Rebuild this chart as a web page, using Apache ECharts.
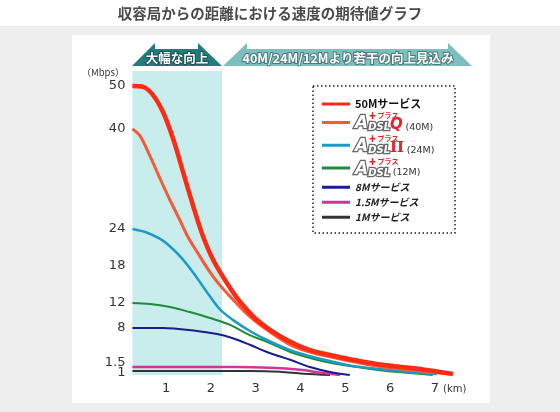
<!DOCTYPE html>
<html><head><meta charset="utf-8">
<script src="https://cdn.jsdelivr.net/npm/echarts@6/dist/echarts.min.js"></script>
<style>html,body{margin:0;padding:0;background:#fff}#c{width:560px;height:412px}</style>
</head><body><div id="c"></div>
<script>
// ---- data (distance km, speed Mbps) ----
const seriesNames = ['50Mサービス','ADSLプラスQ (40M)','ADSLプラスII (24M)','ADSLプラス (12M)','8Mサービス','1.5Mサービス','1Mサービス'];
const s50 = [[0.25,50],[0.49,49.8],[0.71,47.9],[0.93,44.0],[1.16,38.4],[1.38,33.1],[1.6,27.8],[1.82,22.9],[2.05,19.0],[2.36,15.2],[2.65,12.2],[2.98,9.6],[3.32,7.7],[3.77,5.7],[4.21,4.3],[4.66,3.5],[5.1,2.8],[5.77,1.9],[6.66,1.25],[7.4,0.25]];
const s40 = [[0.25,40],[0.42,38.9],[0.64,35.7],[0.87,32.0],[1.09,28.6],[1.31,25.4],[1.49,22.7],[1.69,20.3],[1.98,17.0],[2.2,14.9],[2.5,12.5],[2.87,9.8],[3.25,7.7],[3.77,5.2],[4.21,4.0],[4.66,3.2],[5.1,2.5],[5.77,1.6],[6.66,1.0],[7.33,0.25]];
const s24 = [[0.25,24],[0.58,23.4],[0.87,22.4],[1.02,21.6],[1.31,19.6],[1.6,17.0],[1.91,13.8],[2.2,11.0],[2.49,9.3],[2.87,7.5],[3.25,6.0],[3.77,4.3],[4.21,3.3],[4.66,2.5],[5.1,1.75],[5.77,1.25],[6.44,0.75],[7.04,0.25]];
const s12 = [[0.25,12],[0.64,11.85],[1.09,11.35],[1.53,10.55],[1.98,9.6],[2.43,8.5],[2.87,6.8],[3.25,5.7],[3.77,4.0],[4.21,3.0],[4.66,2.2],[5.1,1.65],[5.77,1.1],[6.44,0.5],[6.95,0]];
const s8 = [[0.25,8],[0.93,8],[1.69,7.5],[2.14,7.0],[2.49,6.3],[2.87,5.2],[3.25,4.0],[3.77,2.7],[4.21,1.5],[4.66,0.75],[5.1,0]];
const s15 = [[0.25,1.5],[2.54,1.5],[3.32,1.4],[3.99,1.15],[4.44,0.6],[4.88,0]];
const s1 = [[0.25,1],[2.87,1],[3.54,0.8],[4.06,0.3],[4.66,0]];
const xTickValues = [1,2,3,4,5,6,7];
const yTickValues = [1,8,12,18,24,40,50];
const yTickLabels = ['1','8','12','18','24','40','50'];
const yTickValues2 = [1.5];          // drawn on a twin axis so it is not dropped as overlapping
const yTickLabels2 = ['1.5'];
const bandRange = [0.25, 2.25];

// ---- non-linear speed scale of the original chart (piecewise linear) ----
const knotSpeed = [0,1,1.5,8,12,18,24,40,50];
const knotPos   = [0,4,8,47,72,109,146,246,289];
function f(v){
  for(let i=1;i<knotSpeed.length;i++){
    if(v<=knotSpeed[i]){
      const t=(v-knotSpeed[i-1])/(knotSpeed[i]-knotSpeed[i-1]);
      return knotPos[i-1]+t*(knotPos[i]-knotPos[i-1]);
    }
  }
  return knotPos[knotPos.length-1];
}
const labelNudge = {'1':-2,'1.5':4};
const yLabelPos = yTickValues.map((v,i)=>f(v)+(labelNudge[yTickLabels[i]]||0));
const yLabelPos2 = yTickValues2.map((v,i)=>f(v)+(labelNudge[yTickLabels2[i]]||0));
const tr = arr => arr.map(p=>[p[0], f(p[1])]);
function lookup(pos, labels){ return function(v){ for(let i=0;i<pos.length;i++){ if(Math.abs(pos[i]-v)<0.01) return labels[i]; } return ''; }; }

const chart = echarts.init(document.getElementById('c'), null, {renderer:'canvas'});
const logoA = {fontSize:17,fontWeight:'bold',fontStyle:'italic',color:'#fff',textBorderColor:'#666',textBorderWidth:2.5,fontFamily:'DejaVu Sans',lineHeight:13,verticalAlign:'bottom'};
const logoD = {fontSize:10,fontWeight:'bold',fontStyle:'italic',color:'#fff',textBorderColor:'#666',textBorderWidth:2.5,fontFamily:'DejaVu Sans',lineHeight:13,verticalAlign:'bottom'};
const legendFmt = {
  '50Mサービス':'{b|50Mサービス}',
  'ADSLプラスQ (40M)':'{p|✚ プラス}\n{a|A}{d|DSL}{q|Q} {s|(40M)}',
  'ADSLプラスII (24M)':'{p|✚ プラス}\n{a|A}{d|DSL}{q2|II} {s|(24M)}',
  'ADSLプラス (12M)':'{p|✚ プラス}\n{a|A}{d|DSL} {s|(12M)}',
  '8Mサービス':'{n|8Mサービス}',
  '1.5Mサービス':'{n|1.5Mサービス}',
  '1Mサービス':'{n|1Mサービス}'
};
const colors = ['#ff2a12','#f65a38','#1a9bc9','#1e8a3c','#1c1c8c','#d0369a','#333333'];
const widths = [4.5,3,2.5,2,2,2.5,2];
const dataSets = [s50,s40,s24,s12,s8,s15,s1];

const series = [{
  type:'line', name:'band', data:[], z:1, silent:true,
  markArea:{silent:true, itemStyle:{color:'#c9eded'}, data:[[{xAxis:bandRange[0]},{xAxis:bandRange[1]}]]}
}];
dataSets.forEach((d,i)=>{
  series.push({
    type:'line', name:seriesNames[i], data:tr(d), symbol:'none', showSymbol:false,
    smooth:0.35, z:10-i, silent:true,
    lineStyle:{color:colors[i], width:widths[i]}, itemStyle:{color:colors[i]}
  });
});

const yBase = {type:'value', min:0, max:304, position:'left',
  axisLine:{show:false}, axisTick:{show:false}, splitLine:{show:false}};
const yLabelStyle = {hideOverlap:false, margin:7, fontSize:13, color:'#333', fontFamily:'DejaVu Sans'};

chart.setOption({
  animation:false,
  backgroundColor:'#ffffff',
  title:{text:'収容局からの距離における速度の期待値グラフ', left:270, top:6, textAlign:'center', padding:0,
    textStyle:{fontSize:14.5, fontWeight:'bold', color:'#4a4a4a', fontFamily:'Noto Sans CJK JP'}},
  grid:{left:132.4, top:71, width:325, height:304, containLabel:false},
  xAxis:{type:'value', min:0.25, max:7.5,
    axisLine:{show:false}, axisTick:{show:false}, splitLine:{show:false},
    axisLabel:{customValues:xTickValues, margin:7, fontSize:13, color:'#333', fontFamily:'DejaVu Sans'}},
  yAxis:[
    Object.assign({}, yBase, {axisLabel:Object.assign({customValues:yLabelPos, formatter:lookup(yLabelPos,yTickLabels)}, yLabelStyle)}),
    Object.assign({}, yBase, {axisLabel:Object.assign({customValues:yLabelPos2, formatter:lookup(yLabelPos2,yTickLabels2)}, yLabelStyle)})
  ],
  legend:{orient:'vertical', left:322, top:97, padding:0, itemGap:1, itemWidth:28, itemHeight:3, itemTextGap:6,
    icon:'rect', data:seriesNames, selectedMode:false,
    formatter:function(n){return legendFmt[n];},
    textStyle:{fontFamily:'Noto Sans CJK JP', lineHeight:14,
      rich:{
        b:{fontSize:11,fontWeight:'bold',color:'#111',lineHeight:14,fontFamily:'Noto Sans CJK JP'},
        n:{fontSize:10,fontWeight:'bold',fontStyle:'italic',color:'#222',lineHeight:14,fontFamily:'Noto Sans CJK JP'},
        p:{fontSize:7,fontWeight:'bold',color:'#e8202a',lineHeight:6,padding:[0,0,0,14],fontFamily:'Noto Sans CJK JP'},
        a:logoA, d:logoD,
        q:{fontSize:15,fontWeight:'bold',fontStyle:'italic',color:'#e8202a',lineHeight:13,verticalAlign:'bottom',fontFamily:'DejaVu Sans'},
        q2:{fontSize:15,fontWeight:'bold',color:'#e8202a',lineHeight:13,verticalAlign:'bottom',fontFamily:'DejaVu Serif'},
        s:{fontSize:9.5,color:'#333',lineHeight:13,verticalAlign:'bottom',fontFamily:'DejaVu Sans'}
      }}},
  graphic:[
    {type:'rect', z:-10, silent:true, shape:{x:0,y:26,width:560,height:386}, style:{fill:'#eeeeee'}},
    {type:'rect', z:-9, silent:true, shape:{x:72,y:35,width:418,height:368}, style:{fill:'#ffffff'}},
    {type:'polygon', silent:true, shape:{points:[[132,66],[155,43],[155,49],[198,49],[198,43],[222,66]]}, style:{fill:'#1f7d7d'}},
    {type:'polygon', silent:true, shape:{points:[[223,66],[247,43],[247,49],[448,49],[448,43],[472,66]]}, style:{fill:'#7dbfbf'}},
    {type:'text', silent:true, style:{text:'大幅な向上', x:177, y:58, align:'center', verticalAlign:'middle', fill:'#fff', font:'bold 12.5px "Noto Sans CJK JP"', stroke:'#1e5050', lineWidth:2}},
    {type:'text', silent:true, style:{text:'40M/24M/12Mより若干の向上見込み', x:348, y:58, align:'center', verticalAlign:'middle', fill:'#fff', font:'bold 12.5px "Noto Sans CJK JP"', stroke:'#4a7a7a', lineWidth:2}},
    {type:'text', silent:true, style:{text:'（Mbps）', x:103, y:72, align:'center', verticalAlign:'middle', fill:'#333', font:'9.5px "Noto Sans CJK JP"'}},
    {type:'text', silent:true, style:{text:'(km)', x:443, y:389, align:'left', verticalAlign:'middle', fill:'#333', font:'10px "DejaVu Sans"'}},
    {type:'rect', silent:true, shape:{x:313,y:86,width:142,height:147}, style:{fill:'none', stroke:'#222', lineWidth:1.5, lineDash:[1.5,2.5]}}
  ],
  series:series
});
</script></body></html>
